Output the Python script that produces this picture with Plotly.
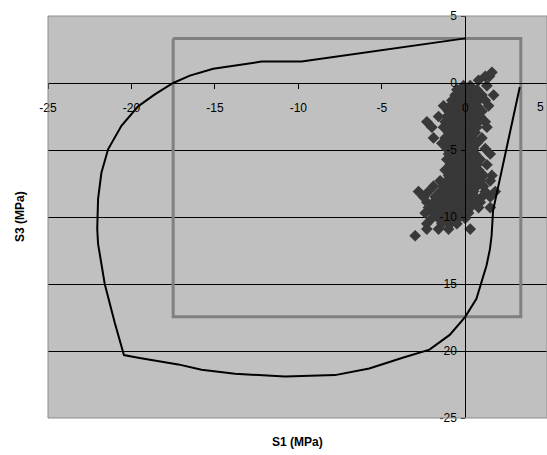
import plotly.graph_objects as go

# ---- data ----
x_ticks = [-25, -20, -15, -10, -5, 0]
y_ticks = [5, 0, -5, -10, -15, -20, -25]

# failure envelope (S1, S3)
env_s1 = [0, -9.8, -12.2, -15.1, -16.5, -17.5, -18.6, -19.6, -20.6, -21.4, -21.8, -22.0,
          -22.05, -22.0, -21.6, -21.0, -20.45, -19.6, -17.2, -15.8, -13.8, -10.8, -7.8,
          -5.75, -3.75, -2.14, -0.93, 0, 0.67, 0.98, 1.28, 1.48, 1.58, 1.67, 3.27]
env_s3 = [3.33, 1.6, 1.6, 1.06, 0.55, 0.0, -0.85, -1.74, -3.2, -4.95, -6.7, -8.65,
          -10.9, -12.0, -15.0, -17.9, -20.3, -20.5, -21.0, -21.4, -21.7, -21.9, -21.8,
          -21.3, -20.5, -19.9, -18.8, -17.45, -16.1, -14.8, -13.6, -12.4, -11.4, -9.5, -0.3]

# strength box
box_s1 = [-17.5, 3.33, 3.33, -17.5, -17.5]
box_s3 = [3.33, 3.33, -17.45, -17.45, 3.33]

# measured stress states, read row by row (S3 level -> S1 values)
rows = [
    (0.8, [1.6]),
    (0.5, [1.2, 1.45]),
    (0.2, [0.8]),
    (-0.2, [-0.1, 0.3, 1.3]),
    (-0.5, [-0.5, -0.1, 0.3, 0.7]),
    (-0.9, [-0.6, -0.2, 0.2, 0.6, 1.0, 1.7]),
    (-1.3, [-0.8, -0.4, 0.0, 0.4, 0.8, 1.2]),
    (-1.7, [-1.3, -0.9, -0.5, -0.1, 0.3, 0.7, 1.4]),
    (-2.1, [-1.0, -0.6, -0.2, 0.2, 0.6, 1.0]),
    (-2.5, [-1.6, -1.1, -0.7, -0.3, 0.1, 0.5, 0.9]),
    (-2.9, [-2.3, -1.2, -0.8, -0.4, 0.0, 0.4, 0.8, 1.2]),
    (-3.3, [-2.0, -1.3, -0.9, -0.5, -0.1, 0.3, 0.7, 1.3]),
    (-3.7, [-1.0, -0.6, -0.2, 0.2, 0.6]),
    (-4.1, [-1.9, -1.2, -0.8, -0.4, 0.0, 0.4, 1.0]),
    (-4.5, [-1.4, -0.9, -0.5, -0.1, 0.3, 0.7]),
    (-4.9, [-1.1, -0.7, -0.3, 0.1, 0.5, 1.2]),
    (-5.3, [-1.0, -0.6, -0.2, 0.2, 0.6, 1.5]),
    (-5.7, [-1.1, -0.7, -0.3, 0.1, 0.5, 0.9]),
    (-6.1, [-0.9, -0.5, -0.1, 0.3, 0.7, 1.3]),
    (-6.5, [-1.2, -0.8, -0.4, 0.0, 0.4, 0.8]),
    (-6.9, [-1.0, -0.6, -0.2, 0.2, 0.6, 1.1, 1.6]),
    (-7.3, [-1.5, -1.1, -0.7, -0.3, 0.1, 0.5, 0.9, 1.5]),
    (-7.7, [-1.9, -1.3, -0.9, -0.5, -0.1, 0.3, 0.7, 1.1]),
    (-8.1, [-2.8, -2.2, -1.5, -1.1, -0.7, -0.3, 0.1, 0.5, 1.2, 1.8]),
    (-8.5, [-2.5, -1.8, -1.4, -1.0, -0.6, -0.2, 0.2, 0.6, 1.0, 1.5]),
    (-8.9, [-2.3, -1.9, -1.5, -1.1, -0.7, -0.3, 0.1, 0.5, 0.9]),
    (-9.3, [-2.2, -1.7, -1.3, -0.9, -0.5, -0.1, 0.3, 0.8, 1.5]),
    (-9.7, [-2.4, -1.9, -1.4, -1.0, -0.6, -0.2, 0.2]),
    (-10.1, [-2.0, -1.6, -1.2, -0.8, -0.4, 0.0]),
    (-10.5, [-2.3, -1.4, -0.9, -0.5]),
    (-10.9, [-2.3, -1.6, -1.0, 0.3]),
    (-11.4, [-3.0]),
]
pts_s1 = [x for y, xs in rows for x in xs]
pts_s3 = [y for y, xs in rows for x in xs]

# ---- figure ----
X_RANGE = [-25, 4.9]
Y_RANGE = [-25, 5]
FONT = "Liberation Sans, Arial, sans-serif"

fig = go.Figure()
fig.add_trace(go.Scatter(x=box_s1, y=box_s3, mode="lines",
                         line=dict(color="#808080", width=3), hoverinfo="skip"))
fig.add_trace(go.Scatter(x=pts_s1, y=pts_s3, mode="markers",
                         marker=dict(symbol="diamond", size=9, color="#383838",
                                     line=dict(width=0))))
fig.add_trace(go.Scatter(x=env_s1, y=env_s3, mode="lines",
                         line=dict(color="#000000", width=2)))

x_pos = (0 - Y_RANGE[0]) / (Y_RANGE[1] - Y_RANGE[0])
y_pos = (0 - X_RANGE[0]) / (X_RANGE[1] - X_RANGE[0])

fig.update_layout(
    width=547, height=455,
    margin=dict(l=48, r=0, t=16, b=37),
    paper_bgcolor="white", plot_bgcolor="#c0c0c0",
    showlegend=False,
    font=dict(family=FONT, size=12, color="#000000"),
    xaxis=dict(range=X_RANGE, tickvals=x_ticks, ticktext=[str(v) for v in x_ticks],
               showgrid=False, zeroline=False, showline=True, linecolor="#000000",
               linewidth=1, ticks="outside", ticklen=5, tickcolor="#000000",
               anchor="free", position=x_pos, ticklabelstandoff=9,
               tickfont=dict(size=12)),
    yaxis=dict(range=Y_RANGE, tickvals=y_ticks, ticktext=[str(v) for v in y_ticks],
               showgrid=True, gridcolor="#000000", gridwidth=1, zeroline=False,
               showline=True, linecolor="#000000", linewidth=1,
               ticks="outside", ticklen=4, tickcolor="#000000",
               anchor="free", position=y_pos, ticklabelstandoff=2,
               tickfont=dict(size=12)),
    shapes=[dict(type="rect", xref="paper", yref="paper", x0=0, y0=0, x1=1, y1=1,
                 line=dict(color="#8c8c8c", width=1), layer="above")],
    annotations=[
        dict(text="<b>S1 (MPa)</b>", xref="paper", yref="paper", x=0.5, y=-0.06,
             showarrow=False, font=dict(size=12), xanchor="center", yanchor="middle"),
        dict(text="<b>S3 (MPa)</b>", xref="paper", yref="paper", x=-0.056, y=0.5,
             showarrow=False, font=dict(size=12), textangle=-90,
             xanchor="center", yanchor="middle"),
        dict(text="5", xref="paper", yref="paper", x=0.998, y=0.774, showarrow=False,
             font=dict(size=12), xanchor="right", yanchor="middle"),
    ],
)

fig.write_html("out.html", config={"displayModeBar": False},
               post_script="document.body.style.margin='0';document.body.style.overflow='hidden';")
